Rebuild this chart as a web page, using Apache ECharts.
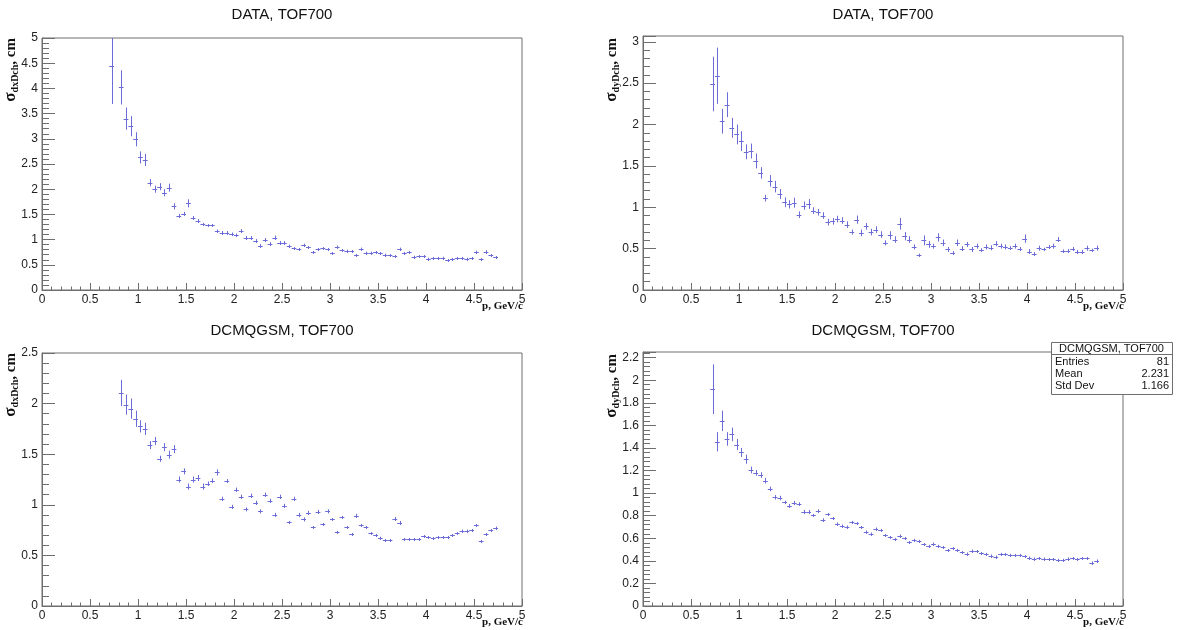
<!DOCTYPE html>
<html>
<head>
<meta charset="utf-8">
<script src="https://cdn.jsdelivr.net/npm/echarts@6/dist/echarts.min.js"></script>
<style>
html,body{margin:0;padding:0;background:#fff;}
#chart{width:1181px;height:630px;}
</style>
</head>
<body>
<div id="chart"></div>
<script>
// Bin centres (p, GeV/c)
const pBins = [
  0.725, 0.775, 0.825, 0.875, 0.925, 0.975, 1.025, 1.075, 1.125, 1.175,
  1.225, 1.275, 1.325, 1.375, 1.425, 1.475, 1.525, 1.575, 1.625, 1.675,
  1.725, 1.775, 1.825, 1.875, 1.925, 1.975, 2.025, 2.075, 2.125, 2.175,
  2.225, 2.275, 2.325, 2.375, 2.425, 2.475, 2.525, 2.575, 2.625, 2.675,
  2.725, 2.775, 2.825, 2.875, 2.925, 2.975, 3.025, 3.075, 3.125, 3.175,
  3.225, 3.275, 3.325, 3.375, 3.425, 3.475, 3.525, 3.575, 3.625, 3.675,
  3.725, 3.775, 3.825, 3.875, 3.925, 3.975, 4.025, 4.075, 4.125, 4.175,
  4.225, 4.275, 4.325, 4.375, 4.425, 4.475, 4.525, 4.575, 4.625, 4.675,
  4.725
];
const binHalfWidth = 0.025;

// DATA, TOF700 : sigma dxDch
const dataDx = [
  4.44, null, 4.02, 3.40, 3.25, 2.99, 2.63, 2.58, 2.13, 2.00,
  2.05, 1.93, 2.03, 1.66, 1.47, 1.51, 1.72, 1.43, 1.37, 1.30,
  1.28, 1.28, 1.17, 1.14, 1.14, 1.11, 1.09, 1.17, 1.04, 1.04,
  0.98, 0.88, 1.00, 0.92, 1.04, 0.94, 0.94, 0.87, 0.83, 0.81,
  0.89, 0.85, 0.75, 0.81, 0.83, 0.81, 0.73, 0.85, 0.79, 0.78,
  0.77, 0.69, 0.81, 0.74, 0.74, 0.75, 0.73, 0.70, 0.69, 0.67,
  0.81, 0.73, 0.75, 0.66, 0.67, 0.67, 0.62, 0.63, 0.63, 0.64,
  0.59, 0.61, 0.63, 0.63, 0.62, 0.63, 0.75, 0.61, 0.76, 0.69,
  0.65
];
const dataDxErr = [
  0.75, null, 0.34, 0.22, 0.20, 0.14, 0.12, 0.12, 0.07, 0.07,
  0.07, 0.07, 0.08, 0.06, 0.04, 0.04, 0.08, 0.04, 0.04, 0.03,
  0.03, 0.03, 0.03, 0.03, 0.03, 0.03, 0.03, 0.04, 0.03, 0.03,
  0.03, 0.03, 0.03, 0.03, 0.04, 0.03, 0.03, 0.03, 0.02, 0.02,
  0.03, 0.02, 0.02, 0.02, 0.02, 0.02, 0.02, 0.03, 0.02, 0.02,
  0.02, 0.02, 0.03, 0.02, 0.02, 0.02, 0.02, 0.02, 0.02, 0.02,
  0.03, 0.02, 0.02, 0.02, 0.02, 0.02, 0.02, 0.02, 0.02, 0.02,
  0.02, 0.02, 0.02, 0.02, 0.02, 0.02, 0.03, 0.02, 0.03, 0.02,
  0.02
];

// DATA, TOF700 : sigma dyDch
const dataDy = [
  2.49, 2.59, 2.04, 2.24, 1.96, 1.88, 1.80, 1.67, 1.68, 1.56,
  1.415, 1.11, 1.32, 1.25, 1.16, 1.06, 1.035, 1.055, 0.91, 1.02,
  1.04, 0.96, 0.94, 0.90, 0.82, 0.83, 0.857, 0.84, 0.79, 0.70,
  0.85, 0.69, 0.77, 0.70, 0.73, 0.67, 0.57, 0.66, 0.61, 0.80,
  0.65, 0.61, 0.52, 0.42, 0.60, 0.55, 0.53, 0.635, 0.57, 0.49,
  0.45, 0.57, 0.50, 0.55, 0.49, 0.53, 0.485, 0.52, 0.51, 0.56,
  0.53, 0.52, 0.51, 0.53, 0.50, 0.62, 0.465, 0.44, 0.505, 0.49,
  0.525, 0.53, 0.61, 0.47, 0.475, 0.50, 0.465, 0.465, 0.505, 0.48,
  0.505
];
const dataDyErr = [
  0.33, 0.34, 0.15, 0.15, 0.12, 0.12, 0.12, 0.09, 0.09, 0.09,
  0.07, 0.04, 0.07, 0.07, 0.06, 0.06, 0.05, 0.06, 0.04, 0.05,
  0.06, 0.04, 0.04, 0.04, 0.04, 0.04, 0.04, 0.04, 0.04, 0.03,
  0.05, 0.04, 0.04, 0.04, 0.04, 0.04, 0.03, 0.05, 0.04, 0.07,
  0.05, 0.04, 0.03, 0.02, 0.06, 0.04, 0.03, 0.05, 0.04, 0.03,
  0.02, 0.04, 0.03, 0.03, 0.03, 0.03, 0.02, 0.03, 0.03, 0.03,
  0.03, 0.03, 0.02, 0.03, 0.02, 0.05, 0.03, 0.02, 0.03, 0.02,
  0.02, 0.03, 0.03, 0.02, 0.02, 0.02, 0.02, 0.02, 0.03, 0.02,
  0.03
];

// DCMQGSM, TOF700 : sigma dxDch
const simDx = [
  null, null, 2.105, 1.99, 1.95, 1.85, 1.775, 1.75, 1.59, 1.63,
  1.455, 1.57, 1.495, 1.55, 1.25, 1.33, 1.18, 1.25, 1.265, 1.18,
  1.21, 1.24, 1.32, 1.06, 1.235, 0.98, 1.15, 1.08, 0.955, 1.09,
  1.02, 0.935, 1.10, 1.04, 0.90, 1.08, 0.99, 0.83, 1.06, 0.90,
  0.855, 0.92, 0.78, 0.93, 0.81, 0.935, 0.86, 0.73, 0.88, 0.78,
  0.71, 0.89, 0.80, 0.78, 0.72, 0.70, 0.675, 0.65, 0.65, 0.86,
  0.82, 0.66, 0.66, 0.66, 0.66, 0.69, 0.68, 0.67, 0.68, 0.68,
  0.68, 0.70, 0.72, 0.745, 0.745, 0.75, 0.80, 0.64, 0.71, 0.75,
  0.775
];
const simDxErr = [
  null, null, 0.13, 0.10, 0.10, 0.08, 0.06, 0.06, 0.04, 0.04,
  0.03, 0.04, 0.04, 0.04, 0.03, 0.03, 0.03, 0.03, 0.03, 0.03,
  0.02, 0.02, 0.03, 0.02, 0.02, 0.02, 0.02, 0.02, 0.02, 0.02,
  0.02, 0.02, 0.02, 0.02, 0.02, 0.02, 0.02, 0.01, 0.02, 0.02,
  0.02, 0.02, 0.01, 0.02, 0.01, 0.02, 0.01, 0.01, 0.01, 0.01,
  0.01, 0.02, 0.01, 0.01, 0.01, 0.01, 0.01, 0.01, 0.01, 0.02,
  0.02, 0.01, 0.01, 0.01, 0.01, 0.01, 0.01, 0.01, 0.01, 0.01,
  0.01, 0.01, 0.01, 0.01, 0.01, 0.01, 0.01, 0.01, 0.01, 0.01,
  0.01
];

// DCMQGSM, TOF700 : sigma dyDch
const simDy = [
  1.92, 1.455, 1.64, 1.48, 1.52, 1.43, 1.36, 1.30, 1.205, 1.18,
  1.16, 1.11, 1.037, 0.963, 0.957, 0.918, 0.889, 0.916, 0.904, 0.836,
  0.836, 0.803, 0.845, 0.765, 0.812, 0.777, 0.73, 0.712, 0.703, 0.744,
  0.732, 0.697, 0.659, 0.641, 0.685, 0.673, 0.626, 0.608, 0.594, 0.623,
  0.60, 0.564, 0.585, 0.576, 0.546, 0.532, 0.552, 0.532, 0.52, 0.496,
  0.511, 0.496, 0.475, 0.464, 0.49, 0.484, 0.467, 0.461, 0.446, 0.437,
  0.461, 0.458, 0.452, 0.449, 0.449, 0.44, 0.428, 0.42, 0.422, 0.42,
  0.413, 0.413, 0.408, 0.408, 0.42, 0.422, 0.413, 0.422, 0.422, 0.384,
  0.402
];
const simDyErr = [
  0.22, 0.085, 0.09, 0.06, 0.06, 0.05, 0.04, 0.04, 0.03, 0.025,
  0.025, 0.025, 0.02, 0.02, 0.02, 0.015, 0.015, 0.015, 0.015, 0.015,
  0.015, 0.012, 0.012, 0.012, 0.012, 0.01, 0.01, 0.01, 0.01, 0.01,
  0.01, 0.01, 0.01, 0.01, 0.01, 0.01, 0.01, 0.01, 0.01, 0.01,
  0.01, 0.01, 0.01, 0.01, 0.01, 0.01, 0.01, 0.01, 0.01, 0.01,
  0.01, 0.01, 0.01, 0.01, 0.01, 0.01, 0.01, 0.01, 0.01, 0.01,
  0.01, 0.01, 0.01, 0.01, 0.01, 0.01, 0.01, 0.01, 0.01, 0.01,
  0.01, 0.01, 0.01, 0.01, 0.01, 0.01, 0.01, 0.01, 0.01, 0.01,
  0.01
];

const panelTitles = ['DATA, TOF700', 'DATA, TOF700', 'DCMQGSM, TOF700', 'DCMQGSM, TOF700'];
const ySubs = ['dxDch', 'dyDch', 'dxDch', 'dyDch'];
const statsLabels = ['Entries', 'Mean', 'Std Dev'];
const statsValues = ['81', '2.231', '1.166'];

// ---------- layout / style ----------
const MARK = '#6c6cd8';
const AXIS = '#6e6e6e';
const FONT = '"Liberation Sans", Arial, sans-serif';
const SERIF = '"Liberation Serif", "Times New Roman", serif';

const panels = [
  {vals: dataDx, errs: dataDxErr, grid: {left: 42, top: 38, width: 480, height: 252}, yMax: 5, yInt: 0.5},
  {vals: dataDy, errs: dataDyErr, grid: {left: 643, top: 36, width: 480, height: 254}, yMax: 3.07, yInt: 0.5},
  {vals: simDx, errs: simDxErr, grid: {left: 42, top: 353, width: 480, height: 253}, yMax: 2.5, yInt: 0.5},
  {vals: simDy, errs: simDyErr, grid: {left: 643, top: 352, width: 480, height: 254}, yMax: 2.25, yInt: 0.2}
];

function buildData(vals, errs) {
  const out = [];
  pBins.forEach((p, i) => {
    if (vals[i] == null) return;
    out.push([p, vals[i], errs[i] || 0]);
  });
  return out;
}

function renderItem(params, api) {
  const x = api.value(0), y = api.value(1), e = api.value(2);
  const c = api.coord([x, y]);
  const t = api.coord([x, y + e]);
  const b = api.coord([x, y - e]);
  const l = api.coord([x - binHalfWidth, y]);
  const r = api.coord([x + binHalfWidth, y]);
  const cx = Math.round(c[0]) + 0.5;
  const cy = Math.round(c[1]) + 0.5;
  return {
    type: 'group',
    children: [
      {type: 'line', shape: {x1: cx, y1: Math.min(t[1], cy - 1.5), x2: cx, y2: Math.max(b[1], cy + 1.5)},
       style: {stroke: MARK, lineWidth: 1}},
      {type: 'line', shape: {x1: l[0], y1: cy, x2: r[0], y2: cy},
       style: {stroke: MARK, lineWidth: 1}}
    ]
  };
}

const grids = [], xAxes = [], yAxes = [], series = [], graphics = [];

panels.forEach((pn, k) => {
  grids.push(Object.assign({show: true, borderColor: AXIS, borderWidth: 1, backgroundColor: 'transparent'}, pn.grid));
  xAxes.push({
    type: 'value', gridIndex: k, min: 0, max: 5, interval: 0.5,
    axisLine: {show: true, lineStyle: {color: AXIS, width: 1}},
    axisTick: {show: true, inside: true, length: 7, lineStyle: {color: AXIS}},
    minorTick: {show: true, splitNumber: 5, length: 3.5, lineStyle: {color: AXIS}},
    splitLine: {show: false},
    axisLabel: {fontFamily: FONT, fontSize: 12, color: '#222', margin: 4, showMinLabel: true, showMaxLabel: true}
  });
  yAxes.push({
    type: 'value', gridIndex: k, min: 0, max: pn.yMax, interval: pn.yInt,
    axisLine: {show: true, lineStyle: {color: AXIS, width: 1}},
    axisTick: {show: true, inside: true, length: 13, lineStyle: {color: AXIS}},
    minorTick: {show: true, splitNumber: 5, length: 7, lineStyle: {color: AXIS}},
    splitLine: {show: false},
    axisLabel: {fontFamily: FONT, fontSize: 12, color: '#222', margin: 4,
      showMaxLabel: (pn.yMax % pn.yInt) < 1e-9 || Math.abs((pn.yMax % pn.yInt) - pn.yInt) < 1e-9}
  });
  series.push({
    type: 'custom', xAxisIndex: k, yAxisIndex: k, clip: true,
    renderItem: renderItem,
    encode: {x: 0, y: 1},
    data: buildData(pn.vals, pn.errs),
    silent: true
  });
  const g = pn.grid;
  // panel title
  graphics.push({
    type: 'text', x: g.left + g.width / 2, y: (k < 2 ? 15 : 331),
    style: {text: panelTitles[k], font: '15px ' + FONT, fill: '#111', align: 'center', verticalAlign: 'middle'}
  });
  // x axis title
  graphics.push({
    type: 'text', x: g.left + g.width + 1, y: g.top + g.height + 16,
    style: {text: 'p, GeV/c', font: 'bold 11px ' + SERIF, fill: '#111', align: 'right', verticalAlign: 'middle'}
  });
  // y axis title (rotated)
  graphics.push({
    type: 'text', x: (k % 2 === 0 ? 11 : 612), y: g.top + (k % 2 === 0 ? 0 : 2), rotation: Math.PI / 2,
    style: {
      text: '{s|σ}{sub|' + ySubs[k] + '}{n|, cm}',
      align: 'right', verticalAlign: 'middle',
      rich: {
        s: {fontFamily: SERIF, fontWeight: 'bold', fontSize: 17, fill: '#111', lineHeight: 18, verticalAlign: 'middle'},
        sub: {fontFamily: SERIF, fontWeight: 'bold', fontSize: 10, fill: '#111', lineHeight: 10, padding: [9, 0, 0, 0]},
        n: {fontFamily: SERIF, fontWeight: 'bold', fontSize: 15, fill: '#111', lineHeight: 18, verticalAlign: 'middle'}
      }
    }
  });
});

// stats box on panel 4
const sb = {x: 1051, y: 342, w: 121, h: 52};
graphics.push({
  type: 'group', z: 100,
  children: [
    {type: 'rect', shape: {x: sb.x + 0.5, y: sb.y + 0.5, width: sb.w, height: sb.h}, style: {fill: '#fff', stroke: AXIS, lineWidth: 1}},
    {type: 'line', shape: {x1: sb.x + 0.5, y1: sb.y + 12.5, x2: sb.x + sb.w + 0.5, y2: sb.y + 12.5}, style: {stroke: AXIS, lineWidth: 1}},
    {type: 'text', x: sb.x + sb.w / 2, y: sb.y + 7, style: {text: panelTitles[3], font: '11px ' + FONT, fill: '#111', align: 'center', verticalAlign: 'middle'}},
    ...statsLabels.map((t, i) => ({type: 'text', x: sb.x + 4, y: sb.y + 19.5 + i * 12, style: {text: t, font: '11px ' + FONT, fill: '#111', align: 'left', verticalAlign: 'middle'}})),
    ...statsValues.map((t, i) => ({type: 'text', x: sb.x + sb.w - 3, y: sb.y + 19.5 + i * 12, style: {text: t, font: '11px ' + FONT, fill: '#111', align: 'right', verticalAlign: 'middle'}}))
  ]
});

const chart = echarts.init(document.getElementById('chart'), null, {renderer: 'canvas'});
chart.setOption({
  animation: false,
  backgroundColor: '#fff',
  grid: grids,
  xAxis: xAxes,
  yAxis: yAxes,
  series: series,
  graphic: graphics
});
</script>
</body>
</html>
